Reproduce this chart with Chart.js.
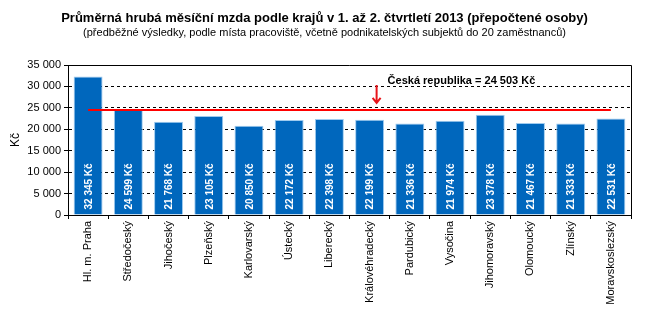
<!DOCTYPE html>
<html>
<head>
<meta charset="utf-8">
<script src="https://cdn.jsdelivr.net/npm/chart.js@4"></script>
<style>
    html, body { margin: 0; padding: 0; background: #fff; }
    #wrap { width: 649px; height: 327px; }
</style>
</head>
<body>
<div id="wrap"><canvas id="chart"></canvas></div>
<script>
const regions = ['Hl. m. Praha', 'Středočeský', 'Jihočeský', 'Plzeňský', 'Karlovarský', 'Ústecký', 'Liberecký',
    'Královéhradecký', 'Pardubický', 'Vysočina', 'Jihomoravský', 'Olomoucký', 'Zlínský', 'Moravskoslezský'];
const wages = [32345, 24599, 21768, 23105, 20850, 22172, 22398, 22199, 21336, 21974, 23378, 21467, 21333, 22531];
const czAverage = 24503;
const czLine = regions.map(() => czAverage);

const fmt = v => String(v).replace(/\B(?=(\d{3})+(?!\d))/g, ' ');

const titles = {
    id: 'titles',
    afterDraw(chart) {
        const ctx = chart.ctx;
        const cx = chart.width / 2;
        ctx.save();
        ctx.fillStyle = '#000';
        ctx.textAlign = 'center';
        ctx.textBaseline = 'alphabetic';
        ctx.font = 'bold 13px "Liberation Sans", Arial, sans-serif';
        ctx.fillText('Průměrná hrubá měsíční mzda podle krajů v 1. až 2. čtvrtletí 2013 (přepočtené osoby)', cx, 22);
        ctx.font = '11px "Liberation Sans", Arial, sans-serif';
        ctx.fillText('(předběžné výsledky, podle místa pracoviště, včetně podnikatelských subjektů do 20 zaměstnanců)', cx, 36);
        ctx.restore();
    }
};

// frame on top and right, value labels in bars, arrow to the average line
const extras = {
    id: 'extras',
    afterDatasetsDraw(chart) {
        const ctx = chart.ctx;
        const a = chart.chartArea;
        const x = chart.scales.x, y = chart.scales.y;
        ctx.save();
        ctx.strokeStyle = '#000';
        ctx.lineWidth = 1;
        ctx.beginPath();
        ctx.moveTo(a.left, a.top + 0.5);
        ctx.lineTo(a.right + 0.5, a.top + 0.5);
        ctx.lineTo(a.right + 0.5, a.bottom);
        ctx.stroke();

        ctx.fillStyle = '#fff';
        ctx.font = 'bold 10px "Liberation Sans", Arial, sans-serif';
        ctx.textAlign = 'left';
        ctx.textBaseline = 'middle';
        chart.getDatasetMeta(0).data.forEach((bar, i) => {
            ctx.save();
            ctx.translate(bar.x + 1, bar.base - 5);
            ctx.rotate(-Math.PI / 2);
            ctx.fillText(fmt(wages[i]) + ' Kč', 0, 0);
            ctx.restore();
        });

        const ax = x.getPixelForValue(7) + 7;
        const yTop = y.getPixelForValue(czAverage) - 25;
        const yEnd = y.getPixelForValue(czAverage) - 7;
        ctx.strokeStyle = '#e8141a';
        ctx.lineWidth = 2;
        ctx.beginPath();
        ctx.moveTo(ax, yTop);
        ctx.lineTo(ax, yEnd);
        ctx.moveTo(ax - 4, yEnd - 5);
        ctx.lineTo(ax, yEnd);
        ctx.lineTo(ax + 4, yEnd - 5);
        ctx.stroke();

        ctx.fillStyle = '#000';
        ctx.font = 'bold 11px "Liberation Sans", Arial, sans-serif';
        ctx.textBaseline = 'alphabetic';
        ctx.fillText('Česká republika = ' + fmt(czAverage) + ' Kč', ax + 11, yTop - 1);
        ctx.restore();
    }
};

new Chart(document.getElementById('chart'), {
    type: 'bar',
    data: {
        labels: regions,
        datasets: [{
            type: 'bar',
            data: wages,
            backgroundColor: '#0067bd',
            borderColor: '#9fcbef',
            borderWidth: 1,
            borderSkipped: 'bottom',
            barPercentage: 0.72,
            categoryPercentage: 1,
            order: 2
        }, {
            type: 'line',
            data: czLine,
            borderColor: '#ff0000',
            borderWidth: 2,
            pointRadius: 0,
            fill: false,
            order: 1
        }]
    },
    options: {
        responsive: true,
        maintainAspectRatio: false,
        animation: false,
        layout: { padding: { top: 65, right: 18, left: 0, bottom: 0 } },
        plugins: {
            legend: { display: false },
            tooltip: { enabled: false }
        },
        scales: {
            x: {
                afterFit: s => { s.height = 112; },
                grid: { drawOnChartArea: false, tickLength: 4, tickColor: '#000' },
                border: { color: '#000' },
                ticks: {
                    color: '#000',
                    font: { family: '"Liberation Sans", Arial, sans-serif', size: 11 },
                    minRotation: 90,
                    maxRotation: 90,
                    padding: 2,
                    autoSkip: false
                }
            },
            y: {
                min: 0,
                max: 35000,
                afterFit: s => { s.width = 68; },
                title: {
                    display: true,
                    text: 'Kč',
                    color: '#000',
                    font: { family: '"Liberation Sans", Arial, sans-serif', size: 12 },
                    padding: { top: 8, bottom: 0 }
                },
                grid: {
                    color: c => (c.tick.value === 0 || c.tick.value === 35000) ? 'rgba(0,0,0,0)' : '#000',
                    tickColor: '#000',
                    tickLength: 4
                },
                border: { color: '#000', dash: [3, 3] },
                ticks: {
                    stepSize: 5000,
                    color: '#000',
                    padding: 3,
                    font: { family: '"Liberation Sans", Arial, sans-serif', size: 11 },
                    callback: v => fmt(v)
                }
            }
        }
    },
    plugins: [titles, extras]
});
</script>
</body>
</html>
